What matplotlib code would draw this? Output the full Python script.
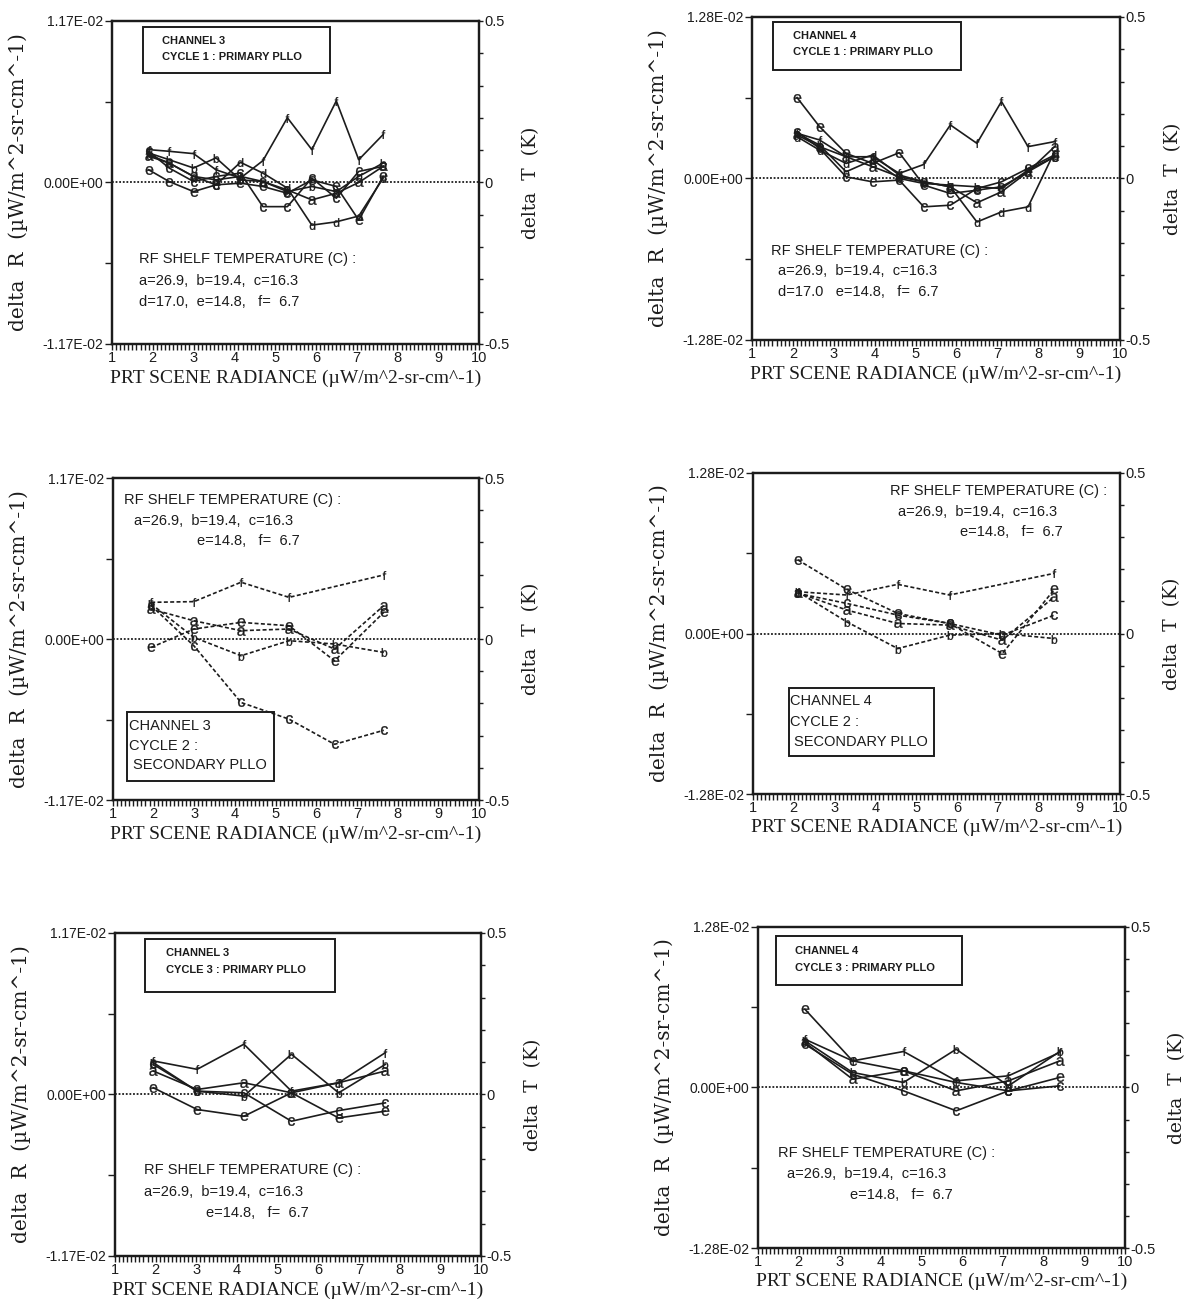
import numpy as np
import matplotlib.pyplot as plt
from matplotlib.patches import Rectangle

plt.rcParams['font.family'] = ['Liberation Sans', 'DejaVu Sans']
plt.rcParams['mathtext.fontset'] = 'custom'
plt.rcParams['mathtext.sf'] = 'Liberation Sans'

INK = '#1c1c1c'

# delta R readings, in units of 1e-3 uW/m^2-sr-cm^-1
# channel 3, cycle 1 : primary PLLO
x_c3_cyc1 = [1.90, 2.40, 3.00, 3.55, 4.15, 4.70, 5.30, 5.90, 6.50, 7.05, 7.65]
c3_cyc1_a = [1.90, 1.41, 0.44, 0.19, 0.44, 0.07, -0.54, -1.26, -0.78, 0.00, 1.17]
c3_cyc1_b = [2.14, 1.65, 1.05, 1.78, 0.19, 0.07, -0.66, -0.29, -0.66, 0.44, 1.41]
c3_cyc1_c = [2.26, 1.05, 0.07, 0.44, 0.68, -1.75, -1.75, 0.32, -1.14, 0.80, 1.17]
c3_cyc1_d = [2.02, 1.41, 0.44, -0.17, 1.46, 0.68, -0.41, -3.09, -2.85, -2.43, 0.32]
c3_cyc1_e = [0.92, 0.07, -0.66, -0.17, -0.05, -0.29, -0.78, 0.19, -0.29, -2.72, 0.44]
c3_cyc1_f = [2.38, 2.26, 2.09, 0.92, 0.32, 1.58, 4.69, 2.38, 5.91, 1.65, 3.48]

# channel 4, cycle 1 : primary PLLO
x_c4_cyc1 = [2.10, 2.65, 3.30, 3.95, 4.60, 5.20, 5.85, 6.50, 7.10, 7.75, 8.40]
c4_cyc1_a = [3.45, 2.52, 1.72, 0.93, 0.13, -0.27, -0.66, -1.93, -1.06, 0.53, 2.52]
c4_cyc1_b = [3.58, 2.65, 0.53, 1.46, 0.00, -0.40, -0.53, -0.66, -0.80, 0.66, 1.72]
c4_cyc1_c = [3.71, 2.39, 0.13, -0.27, -0.13, -2.25, -2.12, -0.80, -0.27, 0.80, 1.86]
c4_cyc1_d = [3.31, 2.25, 1.19, 1.86, 0.27, -0.27, -0.66, -3.45, -2.65, -2.25, 2.12]
c4_cyc1_e = [6.41, 4.11, 1.99, 1.19, 2.04, -0.53, -1.19, -0.93, -0.66, 0.53, 1.72]
c4_cyc1_f = [3.58, 3.05, 1.72, 1.72, 0.40, 1.11, 4.24, 2.78, 6.10, 2.52, 2.92]

# channel 3, cycle 2 : secondary PLLO
x_c3_cyc2 = [1.94, 2.99, 4.15, 5.33, 6.45, 7.66]
x_c3_cyc2_f = [1.94, 2.99, 4.15, 5.33, 7.66]
c3_cyc2_a = [2.18, 1.33, 0.61, 0.73, -0.73, 2.43]
c3_cyc2_b = [2.55, 0.12, -1.21, -0.12, -0.36, -0.97]
c3_cyc2_c = [2.43, -0.49, -4.61, -5.82, -7.65, -6.63]
c3_cyc2_e = [-0.61, 0.73, 1.21, 0.97, -1.58, 1.94]
c3_cyc2_f = [2.67, 2.72, 4.13, 3.03, 4.66]

# channel 4, cycle 2 : secondary PLLO
x_c4_cyc2 = [2.10, 3.30, 4.55, 5.82, 7.11, 8.39]
x_c4_cyc2_f = [2.10, 3.30, 4.55, 5.82, 8.39]
c4_cyc2_a = [3.25, 1.87, 0.80, 0.67, -0.53, 2.93]
c4_cyc2_b = [3.33, 0.93, -1.20, -0.13, 0.00, -0.40]
c4_cyc2_c = [3.20, 2.40, 1.47, 0.80, -0.13, 1.47]
c4_cyc2_e = [5.87, 3.52, 1.60, 0.80, -1.60, 3.52]
c4_cyc2_f = [3.33, 3.07, 3.92, 3.07, 4.80]

# channel 3, cycle 3 : primary PLLO
x_c3_cyc3 = [1.94, 3.02, 4.17, 5.34, 6.50, 7.65]
c3_cyc3_a = [1.70, 0.36, 0.85, 0.12, 0.85, 1.70]
c3_cyc3_b = [2.31, 0.24, -0.12, 2.91, 0.12, 2.18]
c3_cyc3_c = [2.18, 0.24, 0.12, -1.94, -1.17, -0.61]
c3_cyc3_e = [0.49, -1.09, -1.58, 0.12, -1.70, -1.21]
c3_cyc3_f = [2.43, 1.82, 3.64, 0.24, 0.85, 3.03]

# channel 4, cycle 3 : primary PLLO
x_c4_cyc3 = [2.15, 3.32, 4.57, 5.86, 7.14, 8.40]
c4_cyc3_a = [3.59, 0.66, 1.33, -0.27, 0.53, 2.12]
c4_cyc3_b = [3.72, 1.20, 0.40, 3.05, 0.13, 2.87]
c4_cyc3_c = [3.45, 1.06, -0.27, -1.86, -0.27, 0.13]
c4_cyc3_e = [6.24, 2.12, 1.33, 0.40, -0.27, 0.80]
c4_cyc3_f = [3.85, 2.12, 2.87, 0.53, 0.93, 2.79]

lim_ch3 = 1.17e-2
lim_ch4 = 1.28e-2

shelf_abc = 'a=26.9,  b=19.4,  c=16.3'


def setup_axes(ax, lim):
    ax.set_xlim(1, 10)
    ax.set_ylim(-lim, lim)
    ax.set_xticks(range(1, 11))
    ax.set_xticks(np.arange(1, 10.01, 0.1), minor=True)
    ax.tick_params(axis='x', which='both', direction='out', length=4,
                   width=1.0, pad=1, labelsize=10.5, colors=INK)
    ax.set_yticks([-lim, -lim / 2, 0, lim / 2, lim],
                  [f'{-lim:.2E}', '', f'{0:.2E}', '', f'{lim:.2E}'])
    ax.tick_params(axis='y', direction='out', length=5, width=1.0, pad=1,
                   labelsize=10, colors=INK)
    ax.axhline(0, color=INK, lw=1.3, ls=(0, (1, 1)))

    tw = ax.twinx()
    tw.set_ylim(-0.5, 0.5)
    ticks = np.round(np.arange(-0.5, 0.51, 0.1), 1)
    labels = ['-0.5' if t == -0.5 else '0.5' if t == 0.5 else '0' if t == 0 else ''
              for t in ticks]
    tw.set_yticks(ticks, labels)
    tw.tick_params(axis='y', direction='out', length=3, width=1.0, pad=1,
                   labelsize=10.5, colors=INK)
    for a in (ax, tw):
        for sp in a.spines.values():
            sp.set_linewidth(1.6)
            sp.set_color(INK)

    ax.text(-0.255, 0.5, 'delta  R  (\u00b5W/m^2-sr-cm^-1)', transform=ax.transAxes,
            rotation=90, ha='center', va='center', family='DejaVu Serif',
            fontsize=14.5, color=INK)
    ax.text(1.143, 0.5, 'delta  T  (K)', transform=ax.transAxes, rotation=90,
            ha='center', va='center', family='DejaVu Serif', fontsize=13.5, color=INK)
    ax.text(0.5, -0.105, 'PRT SCENE RADIANCE (\u00b5W/m^2-sr-cm^-1)',
            transform=ax.transAxes, ha='center', va='center',
            family='Liberation Serif', fontsize=14, color=INK)


def draw_series(ax, series, dashed):
    ls = (0, (2.4, 1.4)) if dashed else '-'
    for letter, xs, ys in series:
        ax.plot(xs, np.array(ys) * 1e-3, color=INK, lw=1.2, ls=ls,
                marker=f'$\\mathsf{{{letter}}}$', ms=6.3, mfc=INK, mec=INK,
                mew=0.2, zorder=3)


def label_box(ax, rect, lines, bold):
    x0, y0, x1, y1 = rect
    ax.add_patch(Rectangle((x0, y0), x1 - x0, y1 - y0, transform=ax.transAxes,
                           fill=False, ec=INK, lw=1.4, zorder=4))
    for tx, ty, s in lines:
        ax.text(tx, ty, s, transform=ax.transAxes, ha='left', va='center',
                fontsize=8 if bold else 10.5,
                fontweight='bold' if bold else 'normal', color=INK)


def shelf_text(ax, lines):
    for tx, ty, s in lines:
        ax.text(tx, ty, s, transform=ax.transAxes, ha='left', va='center',
                fontsize=10.5, color=INK)


fig = plt.figure(figsize=(11.89, 13.03), dpi=100)

positions = [
    [0.0942, 0.7360, 0.3087, 0.2479],
    [0.6325, 0.7391, 0.3095, 0.2479],
    [0.0950, 0.3860, 0.3078, 0.2471],
    [0.6333, 0.3906, 0.3087, 0.2464],
    [0.0967, 0.0361, 0.3078, 0.2479],
    [0.6375, 0.0422, 0.3087, 0.2464],
]
axes = [fig.add_axes(p) for p in positions]

# channel 3, cycle 1
ax = axes[0]
setup_axes(ax, lim_ch3)
draw_series(ax, [('a', x_c3_cyc1, c3_cyc1_a), ('b', x_c3_cyc1, c3_cyc1_b),
                 ('c', x_c3_cyc1, c3_cyc1_c), ('d', x_c3_cyc1, c3_cyc1_d),
                 ('e', x_c3_cyc1, c3_cyc1_e), ('f', x_c3_cyc1, c3_cyc1_f)], False)
label_box(ax, (0.085, 0.84, 0.594, 0.982),
          [(0.137, 0.938, 'CHANNEL 3'), (0.137, 0.889, 'CYCLE 1 : PRIMARY PLLO')], True)
shelf_text(ax, [(0.074, 0.262, 'RF SHELF TEMPERATURE (C) :'),
                (0.074, 0.195, shelf_abc),
                (0.074, 0.130, 'd=17.0,  e=14.8,   f=  6.7')])

# channel 4, cycle 1
ax = axes[1]
setup_axes(ax, lim_ch4)
draw_series(ax, [('a', x_c4_cyc1, c4_cyc1_a), ('b', x_c4_cyc1, c4_cyc1_b),
                 ('c', x_c4_cyc1, c4_cyc1_c), ('d', x_c4_cyc1, c4_cyc1_d),
                 ('e', x_c4_cyc1, c4_cyc1_e), ('f', x_c4_cyc1, c4_cyc1_f)], False)
label_box(ax, (0.058, 0.837, 0.568, 0.984),
          [(0.112, 0.940, 'CHANNEL 4'), (0.112, 0.890, 'CYCLE 1 : PRIMARY PLLO')], True)
shelf_text(ax, [(0.051, 0.276, 'RF SHELF TEMPERATURE (C) :'),
                (0.071, 0.214, shelf_abc),
                (0.071, 0.147, 'd=17.0   e=14.8,   f=  6.7')])

# channel 3, cycle 2
ax = axes[2]
setup_axes(ax, lim_ch3)
draw_series(ax, [('a', x_c3_cyc2, c3_cyc2_a), ('b', x_c3_cyc2, c3_cyc2_b),
                 ('c', x_c3_cyc2, c3_cyc2_c), ('e', x_c3_cyc2, c3_cyc2_e),
                 ('f', x_c3_cyc2_f, c3_cyc2_f)], True)
label_box(ax, (0.039, 0.059, 0.439, 0.273),
          [(0.044, 0.230, 'CHANNEL 3'), (0.044, 0.168, 'CYCLE 2 :'),
           (0.054, 0.109, 'SECONDARY PLLO')], False)
shelf_text(ax, [(0.031, 0.933, 'RF SHELF TEMPERATURE (C) :'),
                (0.057, 0.867, shelf_abc),
                (0.230, 0.806, 'e=14.8,   f=  6.7')])

# channel 4, cycle 2
ax = axes[3]
setup_axes(ax, lim_ch4)
draw_series(ax, [('a', x_c4_cyc2, c4_cyc2_a), ('b', x_c4_cyc2, c4_cyc2_b),
                 ('c', x_c4_cyc2, c4_cyc2_c), ('e', x_c4_cyc2, c4_cyc2_e),
                 ('f', x_c4_cyc2_f, c4_cyc2_f)], True)
label_box(ax, (0.097, 0.120, 0.493, 0.329),
          [(0.102, 0.290, 'CHANNEL 4'), (0.102, 0.224, 'CYCLE 2 :'),
           (0.112, 0.163, 'SECONDARY PLLO')], False)
shelf_text(ax, [(0.372, 0.943, 'RF SHELF TEMPERATURE (C) :'),
                (0.395, 0.878, shelf_abc),
                (0.563, 0.816, 'e=14.8,   f=  6.7')])

# channel 3, cycle 3
ax = axes[4]
setup_axes(ax, lim_ch3)
draw_series(ax, [('a', x_c3_cyc3, c3_cyc3_a), ('b', x_c3_cyc3, c3_cyc3_b),
                 ('c', x_c3_cyc3, c3_cyc3_c), ('e', x_c3_cyc3, c3_cyc3_e),
                 ('f', x_c3_cyc3, c3_cyc3_f)], False)
label_box(ax, (0.083, 0.817, 0.600, 0.982),
          [(0.139, 0.938, 'CHANNEL 3'), (0.139, 0.886, 'CYCLE 3 : PRIMARY PLLO')], True)
shelf_text(ax, [(0.078, 0.266, 'RF SHELF TEMPERATURE (C) :'),
                (0.078, 0.197, shelf_abc),
                (0.250, 0.133, 'e=14.8,   f=  6.7')])

# channel 4, cycle 3
ax = axes[5]
setup_axes(ax, lim_ch4)
draw_series(ax, [('a', x_c4_cyc3, c4_cyc3_a), ('b', x_c4_cyc3, c4_cyc3_b),
                 ('c', x_c4_cyc3, c4_cyc3_c), ('e', x_c4_cyc3, c4_cyc3_e),
                 ('f', x_c4_cyc3, c4_cyc3_f)], False)
label_box(ax, (0.048, 0.820, 0.557, 0.971),
          [(0.102, 0.924, 'CHANNEL 4'), (0.102, 0.872, 'CYCLE 3 : PRIMARY PLLO')], True)
shelf_text(ax, [(0.054, 0.296, 'RF SHELF TEMPERATURE (C) :'),
                (0.078, 0.230, shelf_abc),
                (0.250, 0.166, 'e=14.8,   f=  6.7')])

fig.savefig('out.png', dpi=100, facecolor='white')
